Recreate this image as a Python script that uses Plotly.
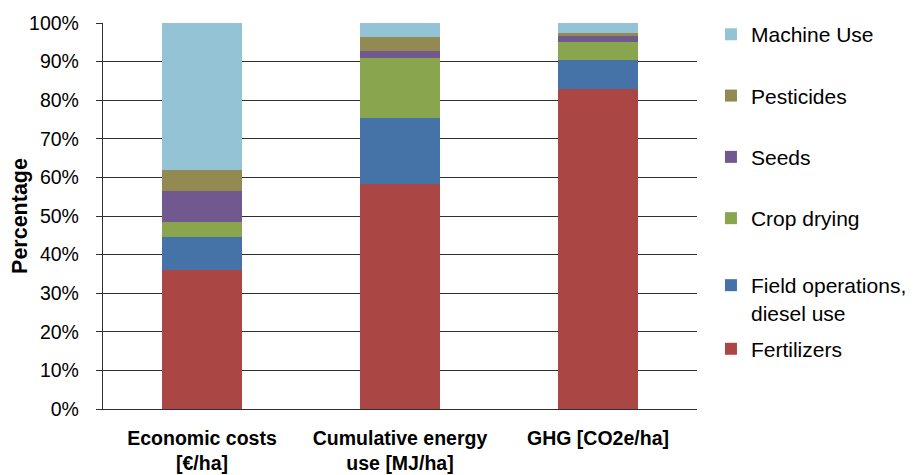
import plotly.graph_objects as go

categories = ["Economic costs<br>[€/ha]", "Cumulative energy<br>use [MJ/ha]", "GHG [CO2e/ha]"]

fertilizers = [0.36, 0.584, 0.829]
field_operations = [0.085, 0.170, 0.075]
crop_drying = [0.040, 0.155, 0.048]
seeds = [0.080, 0.018, 0.014]
pesticides = [0.055, 0.037, 0.008]
machine_use = [0.380, 0.036, 0.026]

series = [
    ("Fertilizers", fertilizers, "#AA4643", "legend2"),
    ("Field operations,<br>diesel use", field_operations, "#4572A7", "legend2"),
    ("Crop drying", crop_drying, "#89A54E", "legend"),
    ("Seeds", seeds, "#71588F", "legend"),
    ("Pesticides", pesticides, "#938953", "legend"),
    ("Machine Use", machine_use, "#93C3D5", "legend"),
]

fig = go.Figure()
n = len(series)
for i, (name, vals, color, lg) in enumerate(series):
    fig.add_trace(go.Bar(
        x=categories, y=vals, name=name, marker=dict(color=color, line=dict(width=0)),
        legendgroup=f"g{i}", legendrank=n - i, legend=lg,
    ))

legend_common = dict(
    xanchor="left", yanchor="top", traceorder="grouped",
    font=dict(size=21, color="#000000"), valign="top", bgcolor="rgba(0,0,0,0)",
)

fig.update_layout(
    barmode="stack",
    bargap=0.6,
    width=914, height=475,
    margin=dict(l=95, r=225, t=15, b=74, autoexpand=False),
    paper_bgcolor="white", plot_bgcolor="white",
    font=dict(family="Liberation Sans, Arial, sans-serif", size=19, color="#000000"),
    legend=dict(x=1.0235, y=1.023, tracegroupgap=31, **legend_common),
    legend2=dict(x=1.0235, y=0.373, tracegroupgap=6, **legend_common),
    xaxis=dict(
        showgrid=False, showline=True, linecolor="#303030", linewidth=1.3,
        ticks="", tickfont=dict(size=19.5), ticklabelstandoff=11, automargin=False,
        tickmode="array", tickvals=categories,
        ticktext=[f"<b>{c}</b>" for c in categories],
    ),
    yaxis=dict(
        range=[0, 1], tickvals=[i / 10 for i in range(11)], tickformat=".0%",
        showgrid=True, gridcolor="#303030", gridwidth=1.3,
        showline=True, linecolor="#303030", linewidth=1.3,
        ticks="outside", ticklen=6, tickcolor="#303030", tickwidth=1.3,
        tickfont=dict(size=19.5), ticklabelstandoff=13, automargin=False,
        title=dict(text="<b>Percentage</b>", font=dict(size=21.5), standoff=12),
        zeroline=False,
    ),
)

fig.write_html("out.html")
